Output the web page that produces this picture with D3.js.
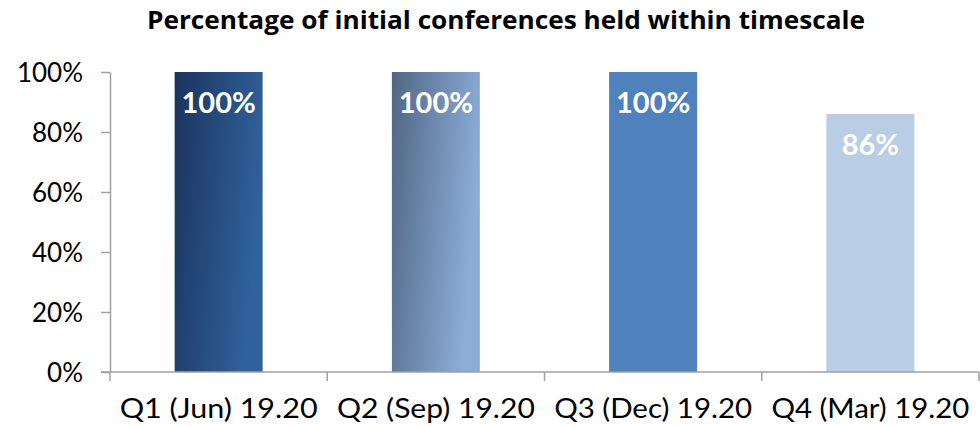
<!DOCTYPE html>
<html><head><meta charset="utf-8">
<script src="https://cdn.jsdelivr.net/npm/d3@7/dist/d3.min.js"></script>
<style>body{margin:0;background:#fff}svg{display:block}</style>
</head><body>
<svg id="c" width="980" height="427"></svg>
<script>
const categories = ["Q1 (Jun) 19.20", "Q2 (Sep) 19.20", "Q3 (Dec) 19.20", "Q4 (Mar) 19.20"];
const values = [100, 100, 100, 86];
const labels = ["100%", "100%", "100%", "86%"];
const yTicks = [0, 20, 40, 60, 80, 100];
const title = "Percentage of initial conferences held within timescale";

const svg = d3.select("#c");
const x = d3.scaleBand().domain(categories).range([110, 979]).paddingInner(0).paddingOuter(0);
const y = d3.scaleLinear().domain([0, 100]).range([372, 72]);

const defs = svg.append("defs");
const g1 = defs.append("linearGradient").attr("id","g1").attr("x1","0").attr("y1","0").attr("x2","1").attr("y2","0.3");
g1.append("stop").attr("offset","0").attr("stop-color","#1b335c");
g1.append("stop").attr("offset","1").attr("stop-color","#30619c");
const g2 = defs.append("linearGradient").attr("id","g2").attr("x1","0").attr("y1","0").attr("x2","1").attr("y2","0.3");
g2.append("stop").attr("offset","0").attr("stop-color","#506683");
g2.append("stop").attr("offset","1").attr("stop-color","#8cadd8");
const fills = ["url(#g1)", "url(#g2)", "#4f81bd", "#b9cde5"];

svg.append("text").attr("x", 506).attr("y", 29).attr("text-anchor","middle")
  .attr("font-family","'Open Sans', sans-serif").attr("font-weight","bold").attr("font-size",25)
  .attr("textLength",718).attr("lengthAdjust","spacingAndGlyphs")
  .attr("fill","#000").text(title);

const bw = x.bandwidth()*0.405;
svg.selectAll("rect.bar").data(values).join("rect").attr("class","bar")
  .attr("x",(d,i)=>x(categories[i]) + x.bandwidth()/2 - bw/2)
  .attr("y",d=>y(d)).attr("width",bw).attr("height",d=>y(0)-y(d))
  .attr("fill",(d,i)=>fills[i]);

svg.selectAll("text.lab").data(values).join("text").attr("class","lab")
  .attr("x",(d,i)=>x(categories[i]) + x.bandwidth()/2)
  .attr("y",d=>y(d)+41).attr("text-anchor","middle")
  .attr("font-family","'Lato', 'DejaVu Sans', sans-serif").attr("font-weight","bold").attr("font-size",29)
  .attr("fill","#fff").text((d,i)=>labels[i]);

const yAxis = svg.append("g").attr("transform","translate(110,0)")
  .call(d3.axisLeft(y).tickValues(yTicks).tickFormat(d=>d+"%").tickSize(9).tickSizeOuter(0));
yAxis.select(".domain").attr("stroke","#a0a0a0").attr("stroke-width",1.5);
yAxis.selectAll(".tick line").attr("stroke","#a0a0a0").attr("stroke-width",1.5);
yAxis.selectAll(".tick text").attr("font-family","'Lato', sans-serif").attr("font-size",26)
  .attr("fill","#000").attr("x",-27).attr("dy","0.36em");

// x axis line
svg.append("line").attr("x1",101).attr("x2",979).attr("y1",y(0)).attr("y2",y(0))
  .attr("stroke","#a0a0a0").attr("stroke-width",1.5);
const bounds = categories.map(c=>x(c)).concat([x.range()[1]]);
svg.selectAll("line.xt").data(bounds).join("line").attr("class","xt")
  .attr("x1",d=>d).attr("x2",d=>d).attr("y1",y(0)).attr("y2",y(0)+9)
  .attr("stroke","#a0a0a0").attr("stroke-width",1.5);
svg.selectAll("text.xl").data(categories).join("text").attr("class","xl")
  .attr("x",d=>x(d)+x.bandwidth()/2).attr("y",418).attr("text-anchor","middle")
  .attr("font-family","'Lato', sans-serif").attr("font-size",26)
  .attr("textLength",198).attr("lengthAdjust","spacingAndGlyphs")
  .attr("fill","#000").text(d=>d);
</script>
</body></html>
